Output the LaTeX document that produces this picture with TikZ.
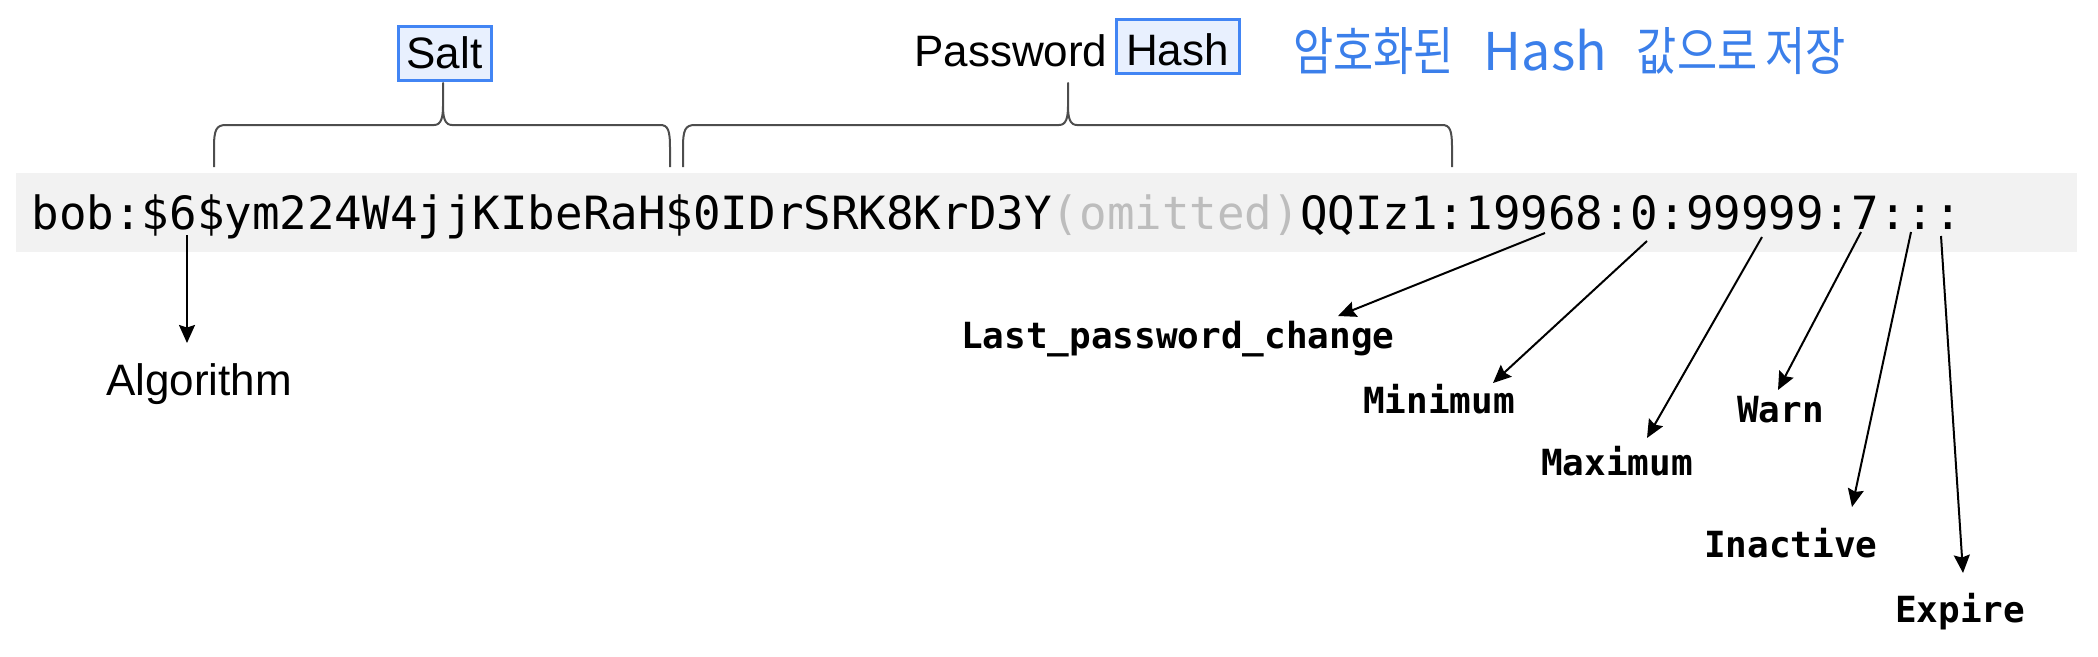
\documentclass[tikz,border=0pt]{standalone}
\usepackage{fontspec}
\setmainfont{Liberation Sans}
\newfontfamily\codefont{DejaVu Sans Mono}
\newfontfamily\krfont{Noto Sans CJK KR}
\usetikzlibrary{arrows.meta}
\definecolor{bandgray}{HTML}{F2F2F2}
\definecolor{omitgray}{HTML}{BDBDBD}
\definecolor{boxblue}{HTML}{4285F4}
\definecolor{boxfill}{HTML}{E8F0FE}
\definecolor{handblue}{HTML}{3B7FEA}
\definecolor{bracegray}{HTML}{4D4D4D}
\newcommand{\hwide}[1]{\scalebox{0.84}[1]{#1}}
\begin{document}
\begin{tikzpicture}[x=1pt,y=-1pt,
  arr/.style={draw=black, line width=2pt, -{Stealth[length=18pt,width=16pt,inset=2.5pt]}},
  bracestyle/.style={draw=bracegray, line width=2pt, line join=round},
  fieldlabel/.style={inner sep=0pt, anchor=base west, font=\codefont\bfseries\fontsize{36}{40}\selectfont},
  sanslabel/.style={inner sep=0pt, anchor=base west, font=\fontsize{44}{48}\selectfont},
  tag/.style={draw=boxblue, fill=boxfill, line width=3pt, inner sep=0pt, font=\fontsize{44}{48}\selectfont, text depth=0pt}
]
\useasboundingbox (0,0) rectangle (2098,656);

% gray band behind the shadow line
\fill[bandgray] (16,173) rectangle (2077,252);

% the /etc/shadow entry
\node[inner sep=0pt, anchor=base west, font=\codefont\fontsize{45.8}{50}\selectfont] (entry) at (31.5,229)
  {bob:\$6\$ym224W4jjKIbeRaH\$0IDrSRK8KrD3Y\textcolor{omitgray}{(omitted)}QQIz1:19968:0:99999:7:::};

% top labels
\node[tag, minimum width=93pt, minimum height=54pt, text height=31pt] (salt) at (444.5,53) {Salt};
\node[sanslabel] (pw) at (914,66) {Password};
\node[tag, minimum width=123pt, minimum height=54pt, text height=38pt] (hash) at (1177.5,46) {Hash};
\node[inner sep=0pt, anchor=base west, text=handblue, font=\krfont\fontsize{52}{56}\selectfont] (note) at (1293,70)
  {\hwide{암호화된}\hspace{30pt}Hash\hspace{30pt}\hwide{값으로}\hspace{8pt}\hwide{저장}};

% braces
\draw[bracestyle] (214,167) -- (214,148) .. controls (214,130) and (216,125) .. (226,125) -- (434,125)
  .. controls (441,125) and (443,118) .. (443,106) -- (443,83) -- (443,106)
  .. controls (443,118) and (445,125) .. (452,125) -- (660,125)
  .. controls (668,125) and (670,130) .. (670,148) -- (670,167);
\draw[bracestyle] (683,167) -- (683,148) .. controls (683,130) and (685,125) .. (695,125) -- (1059,125)
  .. controls (1066,125) and (1068,118) .. (1068,106) -- (1068,83) -- (1068,106)
  .. controls (1068,118) and (1070,125) .. (1077,125) -- (1442,125)
  .. controls (1450,125) and (1452,130) .. (1452,148) -- (1452,167);

% bottom labels
\node[sanslabel] (algo) at (106,395) {Algorithm};
\node[fieldlabel] (lpc) at (961,348) {Last\_password\_change};
\node[fieldlabel] (minimum) at (1363,413) {Minimum};
\node[fieldlabel] (maximum) at (1541,475) {Maximum};
\node[fieldlabel] (warn) at (1737,422) {Warn};
\node[fieldlabel] (inactive) at (1704,557) {Inactive};
\node[fieldlabel] (expire) at (1895,622) {Expire};

% arrow start points on the entry
\coordinate (sAlg) at (187,235);
\coordinate (sLpc) at (1545,233);
\coordinate (sMin) at (1647,241);
\coordinate (sMax) at (1762,237);
\coordinate (sWarn) at (1861,232);
\coordinate (sInact) at (1911,232);
\coordinate (sExp) at (1941,236);
% arrow tips above the labels
\coordinate (tAlg) at (187,343);
\coordinate (tLpc) at (1338,316);
\coordinate (tMin) at (1493,383);
\coordinate (tMax) at (1647,438);
\coordinate (tWarn) at (1778,390);
\coordinate (tInact) at (1852,507);
\coordinate (tExp) at (1963,573);

\draw[arr] (sAlg) -- (tAlg);
\draw[arr] (sLpc) -- (tLpc);
\draw[arr] (sMin) -- (tMin);
\draw[arr] (sMax) -- (tMax);
\draw[arr] (sWarn) -- (tWarn);
\draw[arr] (sInact) -- (tInact);
\draw[arr] (sExp) -- (tExp);
\end{tikzpicture}
\end{document}
